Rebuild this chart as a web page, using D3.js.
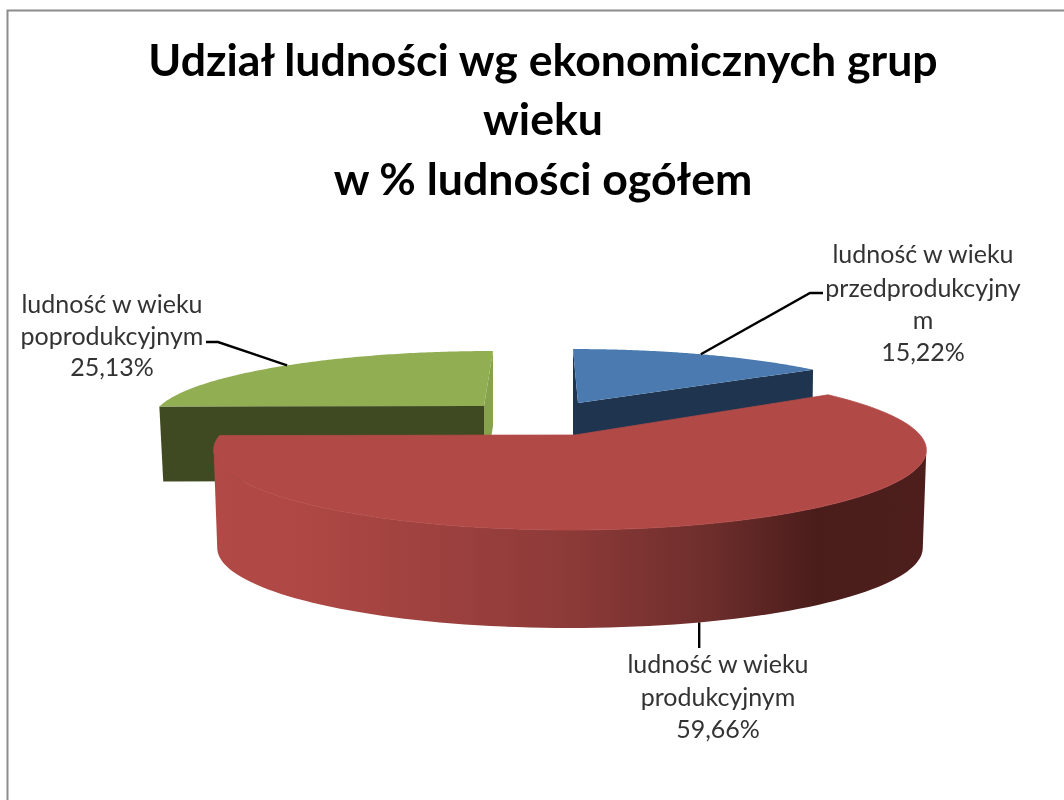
<!DOCTYPE html>
<html>
<head>
<meta charset="utf-8">
<script src="https://cdn.jsdelivr.net/npm/d3@7/dist/d3.min.js"></script>
<style>
html,body{margin:0;padding:0;background:#fff;overflow:hidden}
svg{display:block;filter:blur(0.45px)}
text{font-family:Lato,"Open Sans",sans-serif}
</style>
</head>
<body>
<script>
const categories = ["ludność w wieku przedprodukcyjnym", "ludność w wieku produkcyjnym", "ludność w wieku poprodukcyjnym"];
const values = [15.22, 59.66, 25.13];
const valueLabels = ["15,22%", "59,66%", "25,13%"];
const labelLines = [
  ["ludność w wieku", "przedprodukcyjny", "m", "15,22%"],
  ["ludność w wieku", "produkcyjnym", "59,66%"],
  ["ludność w wieku", "poprodukcyjnym", "25,13%"]
];
const titleLines = ["Udział ludności wg ekonomicznych grup", "wieku", "w % ludności ogółem"];
const topColors = ["#4A7AB0", "#B14A47", "#92AE52"];
const frontColors = ["#1F354F", "url(#redWall)", "#404A22"];
const sideColors = ["#1F354F", "#B14A47", "#86A24C"];

// layout of the exploded 3D pie (screen geometry, not data)
const W = 1064, H = 800, R = 350, DEPTH = 77.2, PERSP = 0.1875;
const layout = [
  {ax:578, ay:403, cx:578, sx:.922, sy:.83,  lean:5,  h:85, bs:.995},
  {ax:575, ay:435, cx:570, sx:1,    sy:1,    lean:0,  h:98, bs:.99},
  {ax:484, ay:406, cx:484, sx:.926, sy:.846, lean:-9, h:75, bs:.988}
];
const labelLayout = [
  {x:923, ys:[263,297,329,361], elbow:[[810,293],[823,293]]},
  {x:718, ys:[673,706,738],     elbow:[[null,648]]},
  {x:112, ys:[313,345,376],     elbow:[[218,342],[206,342]]}
];

const svg = d3.select("body").append("svg").attr("width",W).attr("height",H);
svg.append("rect").attr("width",W).attr("height",H).attr("fill","#fff");
svg.append("path").attr("d","M7.5,800V10.5H1064").attr("fill","none").attr("stroke","#8C8C8C").attr("stroke-width",2);

const defs = svg.append("defs");
const grad = defs.append("linearGradient").attr("id","redWall").attr("gradientUnits","userSpaceOnUse")
  .attr("x1",214).attr("x2",930).attr("y1",0).attr("y2",0);
[[0,"#B14A47"],[.12,"#AF4845"],[.5,"#8C3A38"],[.7,"#6C2D2B"],[.84,"#4A1D1B"],[1,"#4D1E1C"]]
  .forEach(s=>grad.append("stop").attr("offset",s[0]).attr("stop-color",s[1]));

const pie = d3.pie().sort(null).startAngle(0).endAngle(2*Math.PI);
const arcs = pie(values);
const line = d3.line().x(d=>d[0]).y(d=>d[1]);

// project a rim point of slice i at pie angle a; z=1 is the bottom plane
function rim(i,a,z){
  const L = layout[i], u = Math.sin(a), v = -Math.cos(a), w = 1 - PERSP*v;
  const b = z ? L.bs : 1;
  return [L.cx + b*L.sx*R*u/w + L.lean*v, L.ay + L.sy*DEPTH*v/w + (z?L.h:0)];
}
function rimPts(i,a0,a1,z){
  const n = 120;
  return d3.range(n+1).map(k=>rim(i,a0+(a1-a0)*k/n,z));
}

[2,0,1].forEach(i=>{
  const A = arcs[i], L = layout[i], g = svg.append("g");
  const top = rimPts(i,A.startAngle,A.endAngle,0);
  const bottom = rimPts(i,A.startAngle,A.endAngle,1);
  const apex = [L.ax,L.ay], apexB = [L.ax,L.ay+L.h];
  const n = top.length-1;
  if(i===1){
    // outer curved wall between the two silhouette points of the rim
    const iR = d3.greatestIndex(top,d=>d[0]), iL = d3.leastIndex(top,d=>d[0]);
    const jR = d3.greatestIndex(bottom,d=>d[0]), jL = d3.leastIndex(bottom,d=>d[0]);
    g.append("path").attr("fill",frontColors[1])
      .attr("d", line(top.slice(iR,iL+1).concat(bottom.slice(jR,jL+1).reverse()))+"Z");
  } else {
    // flat radial faces: the far one first, then the one facing the viewer
    const frontIdx = i===0 ? n : 0, sideIdx = i===0 ? 0 : n;
    g.append("path").attr("fill", sideColors[i])
      .attr("d", line([top[sideIdx],apex,apexB,bottom[sideIdx]])+"Z");
    g.append("path").attr("fill", frontColors[i])
      .attr("d", line([top[frontIdx],apex,apexB,bottom[frontIdx]])+"Z");
  }
  g.append("path").attr("fill", topColors[i]).attr("stroke", topColors[i]).attr("stroke-width", i===1?0.8:0)
    .attr("d", line([apex].concat(top))+"Z");
});

// leader lines and labels
labelLayout.forEach((l,i)=>{
  const A = arcs[i], mid = (A.startAngle+A.endAngle)/2;
  const start = rim(i,mid,i===1?1:0);
  const pts = [start].concat(l.elbow.map(e=>[e[0]===null?start[0]:e[0],e[1]]));
  svg.append("path").attr("fill","none").attr("stroke","#000").attr("stroke-width",2.4)
    .attr("d",line(pts));
  labelLines[i].forEach((t,k)=>{
    svg.append("text").attr("x",l.x).attr("y",l.ys[k]).attr("text-anchor","middle")
      .attr("font-size",25).attr("fill","#333").text(t);
  });
});

// title
const titleY = [76,135,195];
titleLines.forEach((t,k)=>{
  svg.append("text").attr("x",543).attr("y",titleY[k]).attr("text-anchor","middle")
    .attr("font-size",44.6).attr("font-weight",700).attr("fill","#000").text(t);
});
</script>
</body>
</html>
